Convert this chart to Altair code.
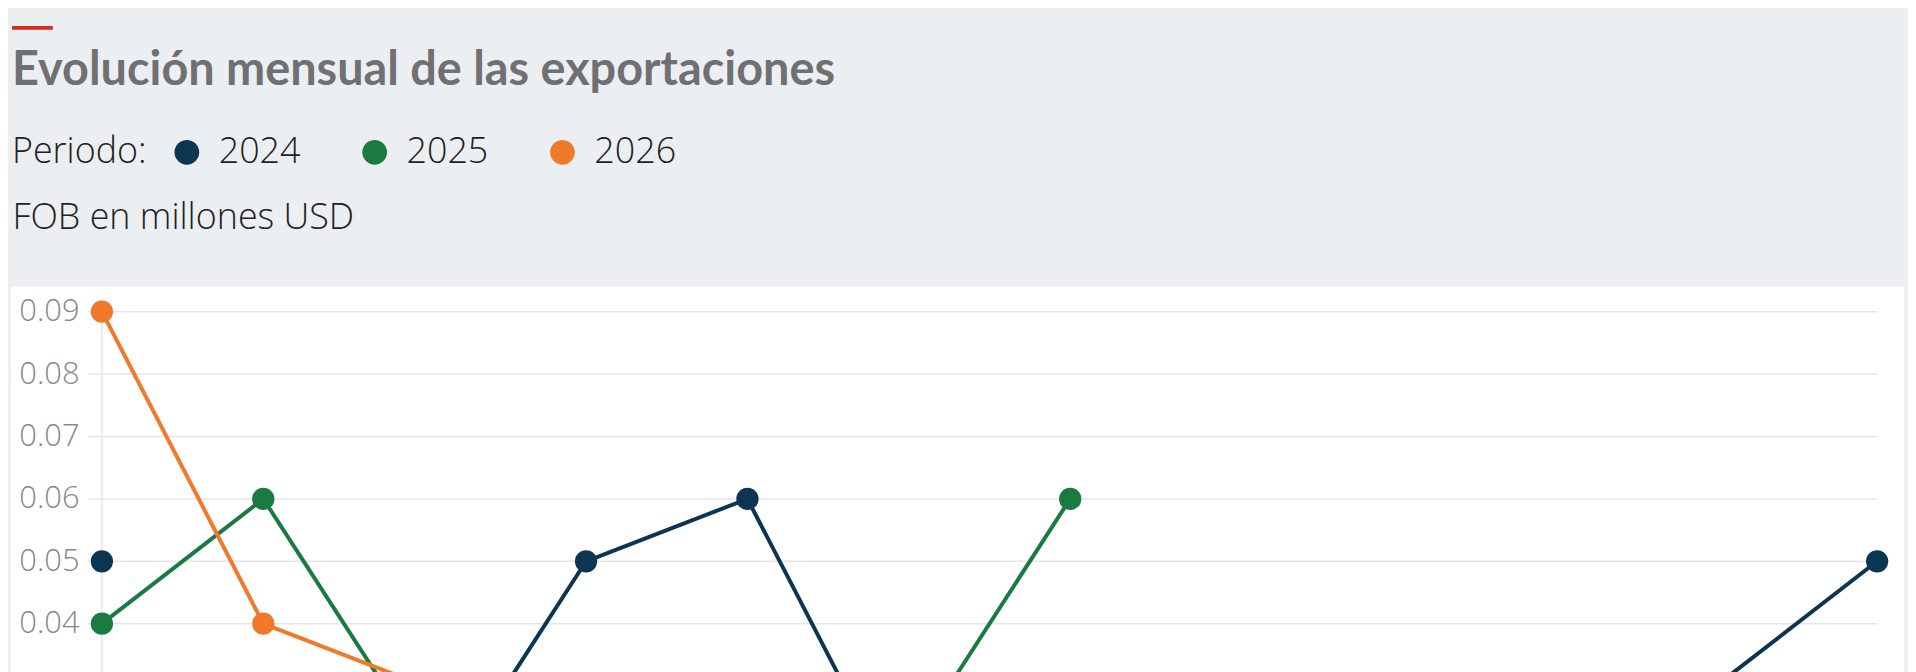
import altair as alt
import pandas as pd

months = ["Ene", "Feb", "Mar", "Abr", "May", "Jun", "Jul", "Ago", "Sep", "Oct", "Nov", "Dic"]
years = ["2024", "2025", "2026"]
colors = ["#0B3551", "#1A7A42", "#F07A2A"]

v2024 = [0.05, None, 0.01, 0.05, 0.06, 0.01, 0.02, 0.01, 0.02, 0.01, 0.03, 0.05]
v2025 = [0.04, 0.06, 0.02, 0.01, 0.02, 0.02, 0.06, None, None, None, None, None]
v2026 = [0.09, 0.04, 0.03, None, None, None, None, None, None, None, None, None]

y_ticks = [0.0, 0.01, 0.02, 0.03, 0.04, 0.05, 0.06, 0.07, 0.08, 0.09]

title_text = "Evolución mensual de las exportaciones"
subtitle_text = "FOB en millones USD"
legend_title = "Periodo:"

rows = []
for yr, vals in zip(years, [v2024, v2025, v2026]):
    seg = 0
    for m, v in zip(months, vals):
        if v is None:
            seg += 1
            continue
        rows.append({"Mes": m, "Periodo": yr, "FOB": v, "seg": f"{yr}-{seg}"})
df = pd.DataFrame(rows)
grid_df = pd.DataFrame({"FOB": y_ticks})

W = 1782.7
H = 564.0
FONT = "Open Sans"
GRID = "#e6e6e6"

x_enc = alt.X("Mes:O", sort=months, scale=alt.Scale(domain=months, padding=0),
              axis=alt.Axis(title=None, labels=False, domain=False, ticks=False, grid=False))
y_scale = alt.Scale(domain=[0, 0.09], nice=False, zero=True)
y_enc = alt.Y("FOB:Q", scale=y_scale,
              axis=alt.Axis(values=y_ticks, format=".2f", title=subtitle_text, grid=False,
                            zindex=1, domain=False, ticks=False,
                            titleAngle=0, titleAlign="left", titleBaseline="alphabetic",
                            titleX=-90.3, titleY=-84, titleFont=FONT, titleFontWeight=300,
                            titleFontSize=36, titleColor="#222222",
                            labelFont=FONT, labelFontWeight=300, labelFontSize=31,
                            labelColor="#888888", labelPadding=23))
color_scale = alt.Scale(domain=years, range=colors)
legend = alt.Legend(title=legend_title, orient="none", direction="horizontal",
                    legendX=-90.3, legendY=-178, titleOrient="left",
                    titleFont=FONT, titleFontWeight=300, titleFontSize=36,
                    titleColor="#222222", titlePadding=21.6,
                    labelFont=FONT, labelFontWeight=300, labelFontSize=36,
                    labelColor="#222222", labelOffset=14,
                    symbolType="circle", symbolSize=615, symbolStrokeWidth=0,
                    symbolOpacity=1, columnPadding=55.6, padding=0, zindex=2)

base_one = pd.DataFrame({"k": [0]})

panel = alt.Chart(base_one).mark_rect(color="white").encode(
    x=alt.value(-91.3), x2=alt.value(1809.7), y=alt.value(-25), y2=alt.value(H + 100)
)
red = alt.Chart(base_one).mark_rule(color="#D52B1E", strokeWidth=4).encode(
    x=alt.value(-90.3), x2=alt.value(-49.3), y=alt.value(-285), y2=alt.value(-285)
)
title = alt.Chart(base_one).mark_text(
    text=title_text, font="Lato", fontWeight="bold", fontSize=47, color="#707072",
    align="left", baseline="alphabetic"
).encode(x=alt.value(-90.3), y=alt.value(-228))

grid = alt.Chart(grid_df).mark_rule(color=GRID, strokeWidth=1.5).encode(
    y=alt.Y("FOB:Q", scale=y_scale), x=alt.value(-14), x2=alt.value(W)
)
yline = alt.Chart(base_one).mark_rule(color=GRID, strokeWidth=1.5).encode(
    x=alt.value(0), y=alt.value(0), y2=alt.value(H)
)

lines = alt.Chart(df).mark_line(strokeWidth=4).encode(
    x=x_enc, y=y_enc,
    color=alt.Color("Periodo:N", scale=color_scale, legend=legend),
    detail="seg:N",
)
points = alt.Chart(df).mark_point(filled=True, size=500, opacity=1).encode(
    x=x_enc, y=y_enc,
    color=alt.Color("Periodo:N", scale=color_scale, legend=legend),
)

chart = alt.layer(panel, red, title, grid, yline, lines, points).properties(
    width=W, height=H,
    background="#ECEFF2",
    padding={"left": 94.3, "top": 303, "right": 31, "bottom": 60},
    autosize=alt.AutoSizeParams(type="none"),
).configure_view(stroke=None)

chart.save("out.html", embed_options={"renderer": "svg", "actions": False})
